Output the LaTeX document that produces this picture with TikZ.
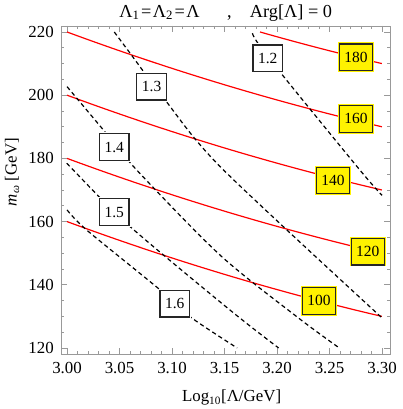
\documentclass[tikz,border=0pt]{standalone}
\usepackage{fontspec}
\setmainfont{Liberation Serif}
\usepackage{tikz}
\usetikzlibrary{positioning}

\tikzset{
  frameline/.style={draw=black!40, line width=0.6pt},
  contour/.style={red, line width=0.85pt},
  level/.style={black, line width=0.85pt, dash pattern=on 3pt off 2.2pt},
  tag/.style={draw=black!85, line width=0.9pt, fill=#1, preaction={draw=#1, line width=2.2pt},
    font=\fontsize{11}{13}\selectfont, inner xsep=3.6pt, inner ysep=0pt, minimum height=18.9pt},
  ticklabel/.style={font=\fontsize{12}{14}\selectfont, inner sep=0pt},
  axislabel/.style={font=\fontsize{12}{14}\selectfont, inner sep=0pt}
}

\begin{document}
\begin{tikzpicture}[x=26.25cm, y=0.079cm]
    \useasboundingbox (2.93619,100.696) rectangle (3.31905,230.127);

    % frame and ticks
    \draw[frameline] (2.99429,118.101) rectangle (3.30762,221.899);
    \foreach \i in {0,...,30} {
        \draw[frameline] ({3+\i/100},118.101) -- ++(0pt,2.1pt);
        \draw[frameline] ({3+\i/100},221.899) -- ++(0pt,-2.1pt);
    }
    \foreach \i in {0,5,...,30} {
        \draw[frameline] ({3+\i/100},118.101) -- ++(0pt,4.3pt);
        \draw[frameline] ({3+\i/100},221.899) -- ++(0pt,-4.3pt);
    }
    \foreach \v in {120,125,...,220} {
        \draw[frameline] (2.99429,\v) -- ++(2.1pt,0pt);
        \draw[frameline] (3.30762,\v) -- ++(-2.1pt,0pt);
    }
    \foreach \v in {120,140,...,220} {
        \draw[frameline] (2.99429,\v) -- ++(4.3pt,0pt);
        \draw[frameline] (3.30762,\v) -- ++(-4.3pt,0pt);
    }

    \foreach \v [count=\k] in {3.00,3.05,3.10,3.15,3.20,3.25,3.30}
        \node[ticklabel, anchor=base] (xtick\k) at (\v,112.0) {\v};
    \foreach \v [count=\k] in {120,140,160,180,200,220}
        \node[ticklabel, anchor=east] (ytick\k) at (2.98762,\v) {\v};

    % red contours
    \foreach \c in {-60,-40,-20,0}
        \draw[contour] plot[domain=3:3.3, samples=50] (\x,{220-122.7*(\x-3)+75.6*(\x-3)^2+(\c)});
    \draw[contour] plot[domain=3.1838:3.3, samples=30] (\x,{220-122.7*(\x-3)+75.6*(\x-3)^2+20});

    % dashed contours
    \draw[level] plot[smooth] coordinates {(3.1765,219.6) (3.1911,212.2) (3.2774,176.9) (3.30,168.3)};
    \draw[level] plot[smooth] coordinates {(3.045,220) (3.060,213.3) (3.0933,198.5) (3.1473,176.9) (3.30,129.5)};
    \draw[level] plot[smooth] coordinates {(3.0,202.7) (3.0346,189.0) (3.0664,176.3) (3.1457,149.4) (3.2188,129.9) (3.2593,120)};
    \draw[level] plot[smooth] coordinates {(3.0,178.5) (3.006,176.3) (3.0584,158.9) (3.1552,132.0) (3.2015,120)};
    \draw[level] plot[smooth] coordinates {(3.0,163.7) (3.0188,157.3) (3.0886,138.4) (3.1171,129.9) (3.162,120)};

    % contour labels
    \node[tag=yellow] (m180) at (3.2752,212) {180};
    \node[tag=yellow] (m160) at (3.2752,192.5) {160};
    \node[tag=yellow] (m140) at (3.2533,173) {140};
    \node[tag=yellow] (m120) at (3.2864,150.5) {120};
    \node[tag=yellow] (m100) at (3.2400,134.9) {100};

    \node[tag=white] (r12) at (3.1911,211.7) {1.2};
    \node[tag=white] (r13) at (3.0805,202.7) {1.3};
    \node[tag=white] (r14) at (3.0450,183.6) {1.4};
    \node[tag=white] (r15) at (3.0450,163.0) {1.5};
    \node[tag=white] (r16) at (3.1026,134.0) {1.6};

    % axis labels and title
    \node[axislabel, font=\fontsize{13}{15}\selectfont, anchor=base] (title) at (3.1511,224.65)
        {Λ\textsubscript{1}\hspace{0.08em}=\hspace{0.08em}Λ\textsubscript{2}\hspace{0.08em}=\hspace{0.08em}Λ\hspace{1.5em},\hspace{1em}Arg[Λ] = 0};
    \node[axislabel, anchor=base] (xlabel) at (3.1567,103.0) {Log\textsubscript{10}[Λ/GeV]};
    \node[axislabel, rotate=90] (ylabel) at (2.9476,175.7) {\textit{m}\textsubscript{\textit{ω}} [GeV]};
\end{tikzpicture}
\end{document}
